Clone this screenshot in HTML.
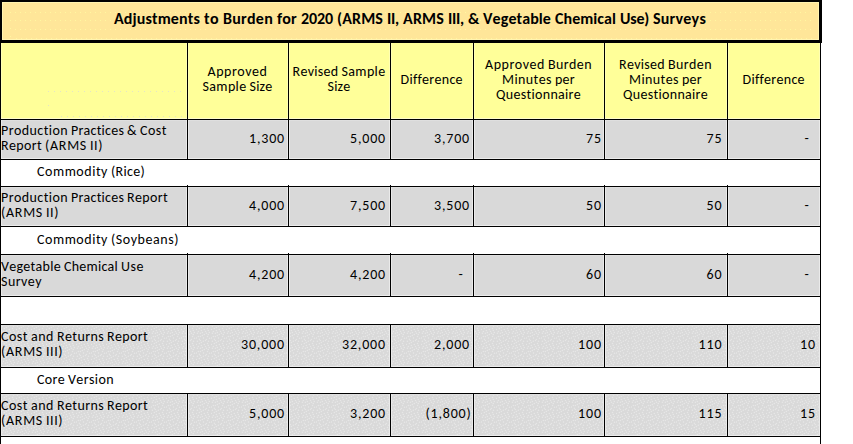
<!DOCTYPE html><html><head><meta charset="utf-8"><title>Adjustments to Burden for 2020</title><style>
*{margin:0;padding:0;box-sizing:border-box}
html,body{width:853px;height:444px;overflow:hidden;background:#fff}
body{position:relative;font-family:Carlito,"Liberation Sans",sans-serif;font-size:14px;color:#000;font-kerning:none}
.a{position:absolute}
.t{position:absolute;white-space:pre;line-height:15px;height:15px}
.w{display:inline-block}
</style></head><body>
<svg width="0" height="0" style="position:absolute"><defs><pattern id="dp" x="0" y="0" width="15" height="15" patternUnits="userSpaceOnUse"><g fill="#fff" fill-opacity="0.35"><circle cx="4.4" cy="0.5" r="0.75"/><circle cx="9.5" cy="0.5" r="0.75"/><circle cx="1.35" cy="1.35" r="0.75"/><circle cx="7.3" cy="1.35" r="0.75"/><circle cx="12.5" cy="1.35" r="0.75"/><circle cx="5.4" cy="2.4" r="0.75"/><circle cx="3.4" cy="3.4" r="0.75"/><circle cx="11.5" cy="3.4" r="0.75"/><circle cx="0.3" cy="4.4" r="0.75"/><circle cx="8.3" cy="4.4" r="0.75"/><circle cx="5.4" cy="5.4" r="0.75"/><circle cx="12.3" cy="5.4" r="0.75"/><circle cx="2.4" cy="6.4" r="0.75"/><circle cx="9.5" cy="6.4" r="0.75"/><circle cx="6.4" cy="7.4" r="0.75"/><circle cx="13.3" cy="7.4" r="0.75"/><circle cx="1.35" cy="8.3" r="0.75"/><circle cx="4.4" cy="8.3" r="0.75"/><circle cx="10.5" cy="8.3" r="0.75"/><circle cx="8.3" cy="9.5" r="0.75"/><circle cx="12.3" cy="9.5" r="0.75"/><circle cx="6.4" cy="10.5" r="0.75"/><circle cx="2.4" cy="11.5" r="0.75"/><circle cx="4.4" cy="11.5" r="0.75"/><circle cx="11.5" cy="11.5" r="0.75"/><circle cx="0.4" cy="13" r="0.75"/><circle cx="7.5" cy="13" r="0.75"/><circle cx="13.5" cy="13.2" r="0.75"/><circle cx="3.4" cy="14.2" r="0.75"/><circle cx="10.4" cy="14.4" r="0.75"/></g></pattern></defs></svg>
<div class="a" style="left:0px;top:0px;width:822px;height:43px;background:#ffe699"></div>
<div class="a" style="left:2px;top:2px;width:817px;height:1px;background:#fff3b0"></div>
<div class="a" style="left:2px;top:2px;width:1px;height:38px;background:#fff3b0"></div>
<div class="a" style="left:2px;top:39px;width:817px;height:1px;background:#fff3b0"></div>
<div class="a" style="left:818px;top:2px;width:1px;height:38px;background:#fff3b0"></div>
<div class="a" style="left:15px;top:12px;width:800px;height:1px;background:transparent;background-image:repeating-linear-gradient(90deg,#fff7a0 0 1px,transparent 1px 5px)"></div>
<div class="a" style="left:15px;top:20px;width:800px;height:1px;background:transparent;background-image:repeating-linear-gradient(90deg,#fff7a0 0 1px,transparent 1px 5px)"></div>
<div class="a" style="left:15px;top:29px;width:800px;height:1px;background:transparent;background-image:repeating-linear-gradient(90deg,#fff7a0 0 1px,transparent 1px 5px)"></div>
<div class="a" style="left:16px;top:38px;width:799px;height:1px;background:transparent;background-image:repeating-linear-gradient(90deg,#fff7a0 0 1px,transparent 1px 5px)"></div>
<div class="a" style="left:10px;top:12px;width:1px;height:1px;background:#fff7a0"></div>
<div class="a" style="left:10px;top:20px;width:1px;height:1px;background:#fff7a0"></div>
<div class="a" style="left:10px;top:28px;width:1px;height:1px;background:#fff7a0"></div>
<div class="a" style="left:10px;top:36px;width:1px;height:1px;background:#fff7a0"></div>
<div class="a" style="left:0;top:0;width:822px;height:43px;border-style:solid;border-color:#000;border-width:2px 3px 3px 2px"></div>
<div class="t" style="left:114px;top:10px;line-height:18px;height:18px;font-weight:bold;font-size:16px"><span class="w" style="width:90px;letter-spacing:0.139px">Adjustments </span><span class="w" style="width:19px;letter-spacing:0.422px">to </span><span class="w" style="width:54px;letter-spacing:0.255px">Burden </span><span class="w" style="width:24px;letter-spacing:0.214px">for </span><span class="w" style="width:36px;letter-spacing:-0.109px">2020 </span><span class="w" style="width:50px;letter-spacing:0.153px">(ARMS </span><span class="w" style="width:16px;letter-spacing:-0.219px">II, </span><span class="w" style="width:45px;letter-spacing:0.188px">ARMS </span><span class="w" style="width:20px;letter-spacing:-0.230px">III, </span><span class="w" style="width:15px;letter-spacing:-0.281px">&amp; </span><span class="w" style="width:72px;letter-spacing:0.092px">Vegetable </span><span class="w" style="width:65px;letter-spacing:0.053px">Chemical </span><span class="w" style="width:33px;letter-spacing:-0.219px">Use) </span><span class="w" style="width:53px;letter-spacing:0.225px">Surveys</span></div>
<div class="a" style="left:1px;top:43px;width:819px;height:76px;background:#ffff99"></div>
<div class="a" style="left:48px;top:91px;width:136px;height:1px;background:transparent;background-image:repeating-linear-gradient(90deg,#e4e4c8 0 1px,transparent 1px 6px)"></div>
<div class="a" style="left:48px;top:105px;width:1px;height:1px;background:#e4e4c8"></div>
<div class="a" style="left:61px;top:116px;width:122px;height:1px;background:transparent;background-image:repeating-linear-gradient(90deg,#e4e4c8 0 1px,transparent 1px 6px)"></div>
<div class="a" style="left:1px;top:120px;width:819px;height:39px;background:#d9d9d9"></div>
<div class="a" style="left:1px;top:187px;width:819px;height:39px;background:#d9d9d9"></div>
<div class="a" style="left:1px;top:255px;width:819px;height:41px;background:#d9d9d9"></div>
<div class="a" style="left:1px;top:325px;width:819px;height:42px;background:#d9d9d9"></div>
<svg class="a" style="left:1px;top:325px" width="819" height="42"><rect width="819" height="42" fill="url(#dp)"/></svg>
<div class="a" style="left:1px;top:394px;width:819px;height:42px;background:#d9d9d9"></div>
<svg class="a" style="left:1px;top:394px" width="819" height="42"><rect width="819" height="42" fill="url(#dp)"/></svg>
<div class="a" style="left:1px;top:158px;width:819px;height:1px;background:#ececec"></div>
<div class="a" style="left:1px;top:120px;width:819px;height:1px;background:#dfdfdf"></div>
<div class="a" style="left:186px;top:120px;width:1px;height:38px;background:#eaeaea"></div>
<div class="a" style="left:188px;top:120px;width:1px;height:38px;background:#eaeaea"></div>
<div class="a" style="left:287px;top:120px;width:1px;height:38px;background:#eaeaea"></div>
<div class="a" style="left:289px;top:120px;width:1px;height:38px;background:#eaeaea"></div>
<div class="a" style="left:389px;top:120px;width:1px;height:38px;background:#eaeaea"></div>
<div class="a" style="left:391px;top:120px;width:1px;height:38px;background:#eaeaea"></div>
<div class="a" style="left:472px;top:120px;width:1px;height:38px;background:#eaeaea"></div>
<div class="a" style="left:474px;top:120px;width:1px;height:38px;background:#eaeaea"></div>
<div class="a" style="left:603px;top:120px;width:1px;height:38px;background:#eaeaea"></div>
<div class="a" style="left:605px;top:120px;width:1px;height:38px;background:#eaeaea"></div>
<div class="a" style="left:726px;top:120px;width:1px;height:38px;background:#eaeaea"></div>
<div class="a" style="left:728px;top:120px;width:1px;height:38px;background:#eaeaea"></div>
<div class="a" style="left:1px;top:120px;width:1px;height:39px;background:#eaeaea"></div>
<div class="a" style="left:819px;top:120px;width:1px;height:39px;background:#eaeaea"></div>
<div class="a" style="left:1px;top:225px;width:819px;height:1px;background:#ececec"></div>
<div class="a" style="left:1px;top:187px;width:819px;height:1px;background:#dfdfdf"></div>
<div class="a" style="left:186px;top:187px;width:1px;height:38px;background:#eaeaea"></div>
<div class="a" style="left:188px;top:187px;width:1px;height:38px;background:#eaeaea"></div>
<div class="a" style="left:287px;top:187px;width:1px;height:38px;background:#eaeaea"></div>
<div class="a" style="left:289px;top:187px;width:1px;height:38px;background:#eaeaea"></div>
<div class="a" style="left:389px;top:187px;width:1px;height:38px;background:#eaeaea"></div>
<div class="a" style="left:391px;top:187px;width:1px;height:38px;background:#eaeaea"></div>
<div class="a" style="left:472px;top:187px;width:1px;height:38px;background:#eaeaea"></div>
<div class="a" style="left:474px;top:187px;width:1px;height:38px;background:#eaeaea"></div>
<div class="a" style="left:603px;top:187px;width:1px;height:38px;background:#eaeaea"></div>
<div class="a" style="left:605px;top:187px;width:1px;height:38px;background:#eaeaea"></div>
<div class="a" style="left:726px;top:187px;width:1px;height:38px;background:#eaeaea"></div>
<div class="a" style="left:728px;top:187px;width:1px;height:38px;background:#eaeaea"></div>
<div class="a" style="left:1px;top:187px;width:1px;height:39px;background:#eaeaea"></div>
<div class="a" style="left:819px;top:187px;width:1px;height:39px;background:#eaeaea"></div>
<div class="a" style="left:1px;top:295px;width:819px;height:1px;background:#ececec"></div>
<div class="a" style="left:1px;top:255px;width:819px;height:1px;background:#dfdfdf"></div>
<div class="a" style="left:186px;top:255px;width:1px;height:40px;background:#eaeaea"></div>
<div class="a" style="left:188px;top:255px;width:1px;height:40px;background:#eaeaea"></div>
<div class="a" style="left:287px;top:255px;width:1px;height:40px;background:#eaeaea"></div>
<div class="a" style="left:289px;top:255px;width:1px;height:40px;background:#eaeaea"></div>
<div class="a" style="left:389px;top:255px;width:1px;height:40px;background:#eaeaea"></div>
<div class="a" style="left:391px;top:255px;width:1px;height:40px;background:#eaeaea"></div>
<div class="a" style="left:472px;top:255px;width:1px;height:40px;background:#eaeaea"></div>
<div class="a" style="left:474px;top:255px;width:1px;height:40px;background:#eaeaea"></div>
<div class="a" style="left:603px;top:255px;width:1px;height:40px;background:#eaeaea"></div>
<div class="a" style="left:605px;top:255px;width:1px;height:40px;background:#eaeaea"></div>
<div class="a" style="left:726px;top:255px;width:1px;height:40px;background:#eaeaea"></div>
<div class="a" style="left:728px;top:255px;width:1px;height:40px;background:#eaeaea"></div>
<div class="a" style="left:1px;top:255px;width:1px;height:41px;background:#eaeaea"></div>
<div class="a" style="left:819px;top:255px;width:1px;height:41px;background:#eaeaea"></div>
<div class="a" style="left:1px;top:366px;width:819px;height:1px;background:#ececec"></div>
<div class="a" style="left:1px;top:325px;width:819px;height:1px;background:#dfdfdf"></div>
<div class="a" style="left:186px;top:325px;width:1px;height:41px;background:#eaeaea"></div>
<div class="a" style="left:188px;top:325px;width:1px;height:41px;background:#eaeaea"></div>
<div class="a" style="left:287px;top:325px;width:1px;height:41px;background:#eaeaea"></div>
<div class="a" style="left:289px;top:325px;width:1px;height:41px;background:#eaeaea"></div>
<div class="a" style="left:389px;top:325px;width:1px;height:41px;background:#eaeaea"></div>
<div class="a" style="left:391px;top:325px;width:1px;height:41px;background:#eaeaea"></div>
<div class="a" style="left:472px;top:325px;width:1px;height:41px;background:#eaeaea"></div>
<div class="a" style="left:474px;top:325px;width:1px;height:41px;background:#eaeaea"></div>
<div class="a" style="left:603px;top:325px;width:1px;height:41px;background:#eaeaea"></div>
<div class="a" style="left:605px;top:325px;width:1px;height:41px;background:#eaeaea"></div>
<div class="a" style="left:726px;top:325px;width:1px;height:41px;background:#eaeaea"></div>
<div class="a" style="left:728px;top:325px;width:1px;height:41px;background:#eaeaea"></div>
<div class="a" style="left:1px;top:325px;width:1px;height:42px;background:#eaeaea"></div>
<div class="a" style="left:819px;top:325px;width:1px;height:42px;background:#eaeaea"></div>
<div class="a" style="left:1px;top:435px;width:819px;height:1px;background:#ececec"></div>
<div class="a" style="left:1px;top:394px;width:819px;height:1px;background:#dfdfdf"></div>
<div class="a" style="left:186px;top:394px;width:1px;height:41px;background:#eaeaea"></div>
<div class="a" style="left:188px;top:394px;width:1px;height:41px;background:#eaeaea"></div>
<div class="a" style="left:287px;top:394px;width:1px;height:41px;background:#eaeaea"></div>
<div class="a" style="left:289px;top:394px;width:1px;height:41px;background:#eaeaea"></div>
<div class="a" style="left:389px;top:394px;width:1px;height:41px;background:#eaeaea"></div>
<div class="a" style="left:391px;top:394px;width:1px;height:41px;background:#eaeaea"></div>
<div class="a" style="left:472px;top:394px;width:1px;height:41px;background:#eaeaea"></div>
<div class="a" style="left:474px;top:394px;width:1px;height:41px;background:#eaeaea"></div>
<div class="a" style="left:603px;top:394px;width:1px;height:41px;background:#eaeaea"></div>
<div class="a" style="left:605px;top:394px;width:1px;height:41px;background:#eaeaea"></div>
<div class="a" style="left:726px;top:394px;width:1px;height:41px;background:#eaeaea"></div>
<div class="a" style="left:728px;top:394px;width:1px;height:41px;background:#eaeaea"></div>
<div class="a" style="left:1px;top:394px;width:1px;height:42px;background:#eaeaea"></div>
<div class="a" style="left:819px;top:394px;width:1px;height:42px;background:#eaeaea"></div>
<div class="a" style="left:1px;top:118px;width:819px;height:1px;background:#fffccc"></div>
<div class="a" style="left:1px;top:43px;width:1px;height:75px;background:#ffffb4"></div>
<div class="a" style="left:186px;top:43px;width:1px;height:75px;background:#ffffb4"></div>
<div class="a" style="left:188px;top:43px;width:1px;height:75px;background:#ffffb4"></div>
<div class="a" style="left:287px;top:43px;width:1px;height:75px;background:#ffffb4"></div>
<div class="a" style="left:289px;top:43px;width:1px;height:75px;background:#ffffb4"></div>
<div class="a" style="left:389px;top:43px;width:1px;height:75px;background:#ffffb4"></div>
<div class="a" style="left:391px;top:43px;width:1px;height:75px;background:#ffffb4"></div>
<div class="a" style="left:472px;top:43px;width:1px;height:75px;background:#ffffb4"></div>
<div class="a" style="left:474px;top:43px;width:1px;height:75px;background:#ffffb4"></div>
<div class="a" style="left:603px;top:43px;width:1px;height:75px;background:#ffffb4"></div>
<div class="a" style="left:605px;top:43px;width:1px;height:75px;background:#ffffb4"></div>
<div class="a" style="left:726px;top:43px;width:1px;height:75px;background:#ffffb4"></div>
<div class="a" style="left:728px;top:43px;width:1px;height:75px;background:#ffffb4"></div>
<div class="a" style="left:819px;top:43px;width:1px;height:75px;background:#ffffb4"></div>
<div class="a" style="left:0px;top:119px;width:821px;height:1px;background:#000"></div>
<div class="a" style="left:0px;top:159px;width:821px;height:1px;background:#000"></div>
<div class="a" style="left:0px;top:186px;width:821px;height:1px;background:#000"></div>
<div class="a" style="left:0px;top:226px;width:821px;height:1px;background:#000"></div>
<div class="a" style="left:0px;top:254px;width:821px;height:1px;background:#000"></div>
<div class="a" style="left:0px;top:296px;width:821px;height:1px;background:#000"></div>
<div class="a" style="left:0px;top:324px;width:821px;height:1px;background:#000"></div>
<div class="a" style="left:0px;top:367px;width:821px;height:1px;background:#000"></div>
<div class="a" style="left:0px;top:393px;width:821px;height:1px;background:#000"></div>
<div class="a" style="left:0px;top:436px;width:821px;height:1px;background:#000"></div>
<div class="a" style="left:0px;top:43px;width:1px;height:401px;background:#000"></div>
<div class="a" style="left:820px;top:43px;width:1px;height:401px;background:#000"></div>
<div class="a" style="left:187px;top:43px;width:1px;height:77px;background:#000"></div>
<div class="a" style="left:187px;top:119px;width:1px;height:41px;background:#000"></div>
<div class="a" style="left:187px;top:185px;width:1px;height:42px;background:#000"></div>
<div class="a" style="left:187px;top:253px;width:1px;height:44px;background:#000"></div>
<div class="a" style="left:187px;top:324px;width:1px;height:44px;background:#000"></div>
<div class="a" style="left:187px;top:393px;width:1px;height:44px;background:#000"></div>
<div class="a" style="left:288px;top:43px;width:1px;height:77px;background:#000"></div>
<div class="a" style="left:288px;top:119px;width:1px;height:41px;background:#000"></div>
<div class="a" style="left:288px;top:185px;width:1px;height:42px;background:#000"></div>
<div class="a" style="left:288px;top:253px;width:1px;height:44px;background:#000"></div>
<div class="a" style="left:288px;top:324px;width:1px;height:44px;background:#000"></div>
<div class="a" style="left:288px;top:393px;width:1px;height:44px;background:#000"></div>
<div class="a" style="left:390px;top:43px;width:1px;height:77px;background:#000"></div>
<div class="a" style="left:390px;top:119px;width:1px;height:41px;background:#000"></div>
<div class="a" style="left:390px;top:185px;width:1px;height:42px;background:#000"></div>
<div class="a" style="left:390px;top:253px;width:1px;height:44px;background:#000"></div>
<div class="a" style="left:390px;top:324px;width:1px;height:44px;background:#000"></div>
<div class="a" style="left:390px;top:393px;width:1px;height:44px;background:#000"></div>
<div class="a" style="left:473px;top:43px;width:1px;height:77px;background:#000"></div>
<div class="a" style="left:473px;top:119px;width:1px;height:41px;background:#000"></div>
<div class="a" style="left:473px;top:185px;width:1px;height:42px;background:#000"></div>
<div class="a" style="left:473px;top:253px;width:1px;height:44px;background:#000"></div>
<div class="a" style="left:473px;top:324px;width:1px;height:44px;background:#000"></div>
<div class="a" style="left:473px;top:393px;width:1px;height:44px;background:#000"></div>
<div class="a" style="left:604px;top:43px;width:1px;height:77px;background:#000"></div>
<div class="a" style="left:604px;top:119px;width:1px;height:41px;background:#000"></div>
<div class="a" style="left:604px;top:185px;width:1px;height:42px;background:#000"></div>
<div class="a" style="left:604px;top:253px;width:1px;height:44px;background:#000"></div>
<div class="a" style="left:604px;top:324px;width:1px;height:44px;background:#000"></div>
<div class="a" style="left:604px;top:393px;width:1px;height:44px;background:#000"></div>
<div class="a" style="left:727px;top:43px;width:1px;height:77px;background:#000"></div>
<div class="a" style="left:727px;top:119px;width:1px;height:41px;background:#000"></div>
<div class="a" style="left:727px;top:185px;width:1px;height:42px;background:#000"></div>
<div class="a" style="left:727px;top:253px;width:1px;height:44px;background:#000"></div>
<div class="a" style="left:727px;top:324px;width:1px;height:44px;background:#000"></div>
<div class="a" style="left:727px;top:393px;width:1px;height:44px;background:#000"></div>
<div class="t" style="left:207.50px;top:64.00px"><span class="w" style="width:60px;letter-spacing:0.533px">Approved</span></div>
<div class="t" style="left:202.50px;top:79.00px"><span class="w" style="width:47px;letter-spacing:0.357px">Sample </span><span class="w" style="width:23px;letter-spacing:0.211px">Size</span></div>
<div class="t" style="left:292.50px;top:64.00px"><span class="w" style="width:49px;letter-spacing:0.299px">Revised </span><span class="w" style="width:44px;letter-spacing:0.357px">Sample</span></div>
<div class="t" style="left:327.50px;top:79.00px"><span class="w" style="width:23px;letter-spacing:0.211px">Size</span></div>
<div class="t" style="left:400.50px;top:71.50px"><span class="w" style="width:62px;letter-spacing:0.294px">Difference</span></div>
<div class="t" style="left:485.00px;top:56.50px"><span class="w" style="width:63px;letter-spacing:0.533px">Approved </span><span class="w" style="width:44px;letter-spacing:0.411px">Burden</span></div>
<div class="t" style="left:502.00px;top:71.50px"><span class="w" style="width:53px;letter-spacing:0.424px">Minutes </span><span class="w" style="width:20px;letter-spacing:0.266px">per</span></div>
<div class="t" style="left:496.00px;top:86.50px"><span class="w" style="width:85px;letter-spacing:0.316px">Questionnaire</span></div>
<div class="t" style="left:619.00px;top:56.50px"><span class="w" style="width:49px;letter-spacing:0.299px">Revised </span><span class="w" style="width:44px;letter-spacing:0.411px">Burden</span></div>
<div class="t" style="left:629.00px;top:71.50px"><span class="w" style="width:53px;letter-spacing:0.424px">Minutes </span><span class="w" style="width:20px;letter-spacing:0.266px">per</span></div>
<div class="t" style="left:623.00px;top:86.50px"><span class="w" style="width:85px;letter-spacing:0.316px">Questionnaire</span></div>
<div class="t" style="left:742.50px;top:71.50px"><span class="w" style="width:62px;letter-spacing:0.294px">Difference</span></div>
<div class="t" style="left:1.00px;top:122.50px"><span class="w" style="width:70px;letter-spacing:0.433px">Production </span><span class="w" style="width:56px;letter-spacing:0.233px">Practices </span><span class="w" style="width:13px;letter-spacing:0.438px">&amp; </span><span class="w" style="width:27px;letter-spacing:0.496px">Cost</span></div>
<div class="t" style="left:1.00px;top:137.50px"><span class="w" style="width:44px;letter-spacing:0.352px">Report </span><span class="w" style="width:45px;letter-spacing:0.728px">(ARMS </span><span class="w" style="width:13px;letter-spacing:0.562px">II)</span></div>
<div class="t" style="left:249.00px;top:130.50px"><span class="w" style="width:36px;letter-spacing:0.822px">1,300</span></div>
<div class="t" style="left:350.00px;top:130.50px"><span class="w" style="width:36px;letter-spacing:0.822px">5,000</span></div>
<div class="t" style="left:434.00px;top:130.50px"><span class="w" style="width:36px;letter-spacing:0.822px">3,700</span></div>
<div class="t" style="left:586.00px;top:130.50px"><span class="w" style="width:16px;letter-spacing:0.898px">75</span></div>
<div class="t" style="left:706.50px;top:130.50px"><span class="w" style="width:16px;letter-spacing:0.898px">75</span></div>
<div class="t" style="left:804.50px;top:130.50px"><span class="w" style="width:5px;letter-spacing:0.703px">-</span></div>
<div class="t" style="left:1.00px;top:189.50px"><span class="w" style="width:70px;letter-spacing:0.433px">Production </span><span class="w" style="width:56px;letter-spacing:0.233px">Practices </span><span class="w" style="width:41px;letter-spacing:0.352px">Report</span></div>
<div class="t" style="left:1.00px;top:204.50px"><span class="w" style="width:45px;letter-spacing:0.728px">(ARMS </span><span class="w" style="width:13px;letter-spacing:0.562px">II)</span></div>
<div class="t" style="left:249.00px;top:197.50px"><span class="w" style="width:36px;letter-spacing:0.822px">4,000</span></div>
<div class="t" style="left:350.00px;top:197.50px"><span class="w" style="width:36px;letter-spacing:0.822px">7,500</span></div>
<div class="t" style="left:434.00px;top:197.50px"><span class="w" style="width:36px;letter-spacing:0.822px">3,500</span></div>
<div class="t" style="left:586.00px;top:197.50px"><span class="w" style="width:16px;letter-spacing:0.898px">50</span></div>
<div class="t" style="left:706.50px;top:197.50px"><span class="w" style="width:16px;letter-spacing:0.898px">50</span></div>
<div class="t" style="left:804.50px;top:197.50px"><span class="w" style="width:5px;letter-spacing:0.703px">-</span></div>
<div class="t" style="left:1.00px;top:258.50px"><span class="w" style="width:63px;letter-spacing:0.288px">Vegetable </span><span class="w" style="width:57px;letter-spacing:0.246px">Chemical </span><span class="w" style="width:23px;letter-spacing:0.521px">Use</span></div>
<div class="t" style="left:1.00px;top:273.50px"><span class="w" style="width:41px;letter-spacing:0.451px">Survey</span></div>
<div class="t" style="left:249.00px;top:266.50px"><span class="w" style="width:36px;letter-spacing:0.822px">4,200</span></div>
<div class="t" style="left:350.00px;top:266.50px"><span class="w" style="width:36px;letter-spacing:0.822px">4,200</span></div>
<div class="t" style="left:458.50px;top:266.50px"><span class="w" style="width:5px;letter-spacing:0.703px">-</span></div>
<div class="t" style="left:586.00px;top:266.50px"><span class="w" style="width:16px;letter-spacing:0.898px">60</span></div>
<div class="t" style="left:706.50px;top:266.50px"><span class="w" style="width:16px;letter-spacing:0.898px">60</span></div>
<div class="t" style="left:804.50px;top:266.50px"><span class="w" style="width:5px;letter-spacing:0.703px">-</span></div>
<div class="t" style="left:1.00px;top:329.00px"><span class="w" style="width:30px;letter-spacing:0.496px">Cost </span><span class="w" style="width:26px;letter-spacing:0.526px">and </span><span class="w" style="width:50px;letter-spacing:0.382px">Returns </span><span class="w" style="width:41px;letter-spacing:0.352px">Report</span></div>
<div class="t" style="left:1.00px;top:344.00px"><span class="w" style="width:45px;letter-spacing:0.728px">(ARMS </span><span class="w" style="width:17px;letter-spacing:0.543px">III)</span></div>
<div class="t" style="left:241.00px;top:337.00px"><span class="w" style="width:44px;letter-spacing:0.836px">30,000</span></div>
<div class="t" style="left:342.00px;top:337.00px"><span class="w" style="width:44px;letter-spacing:0.836px">32,000</span></div>
<div class="t" style="left:434.00px;top:337.00px"><span class="w" style="width:36px;letter-spacing:0.822px">2,000</span></div>
<div class="t" style="left:578.00px;top:337.00px"><span class="w" style="width:24px;letter-spacing:0.901px">100</span></div>
<div class="t" style="left:698.50px;top:337.00px"><span class="w" style="width:24px;letter-spacing:0.901px">110</span></div>
<div class="t" style="left:800.00px;top:337.00px"><span class="w" style="width:16px;letter-spacing:0.898px">10</span></div>
<div class="t" style="left:1.00px;top:398.00px"><span class="w" style="width:30px;letter-spacing:0.496px">Cost </span><span class="w" style="width:26px;letter-spacing:0.526px">and </span><span class="w" style="width:50px;letter-spacing:0.382px">Returns </span><span class="w" style="width:41px;letter-spacing:0.352px">Report</span></div>
<div class="t" style="left:1.00px;top:413.00px"><span class="w" style="width:45px;letter-spacing:0.728px">(ARMS </span><span class="w" style="width:17px;letter-spacing:0.543px">III)</span></div>
<div class="t" style="left:249.00px;top:406.00px"><span class="w" style="width:36px;letter-spacing:0.822px">5,000</span></div>
<div class="t" style="left:350.00px;top:406.00px"><span class="w" style="width:36px;letter-spacing:0.822px">3,200</span></div>
<div class="t" style="left:425.50px;top:406.00px"><span class="w" style="width:46px;letter-spacing:0.804px">(1,800)</span></div>
<div class="t" style="left:578.00px;top:406.00px"><span class="w" style="width:24px;letter-spacing:0.901px">100</span></div>
<div class="t" style="left:698.50px;top:406.00px"><span class="w" style="width:24px;letter-spacing:0.901px">115</span></div>
<div class="t" style="left:800.00px;top:406.00px"><span class="w" style="width:16px;letter-spacing:0.898px">15</span></div>
<div class="t" style="left:37.00px;top:164.00px"><span class="w" style="width:74px;letter-spacing:0.533px">Commodity </span><span class="w" style="width:34px;letter-spacing:0.299px">(Rice)</span></div>
<div class="t" style="left:37.00px;top:231.50px"><span class="w" style="width:74px;letter-spacing:0.533px">Commodity </span><span class="w" style="width:68px;letter-spacing:0.548px">(Soybeans)</span></div>
<div class="t" style="left:37.00px;top:371.50px"><span class="w" style="width:31px;letter-spacing:0.324px">Core </span><span class="w" style="width:46px;letter-spacing:0.397px">Version</span></div>
</body></html>
